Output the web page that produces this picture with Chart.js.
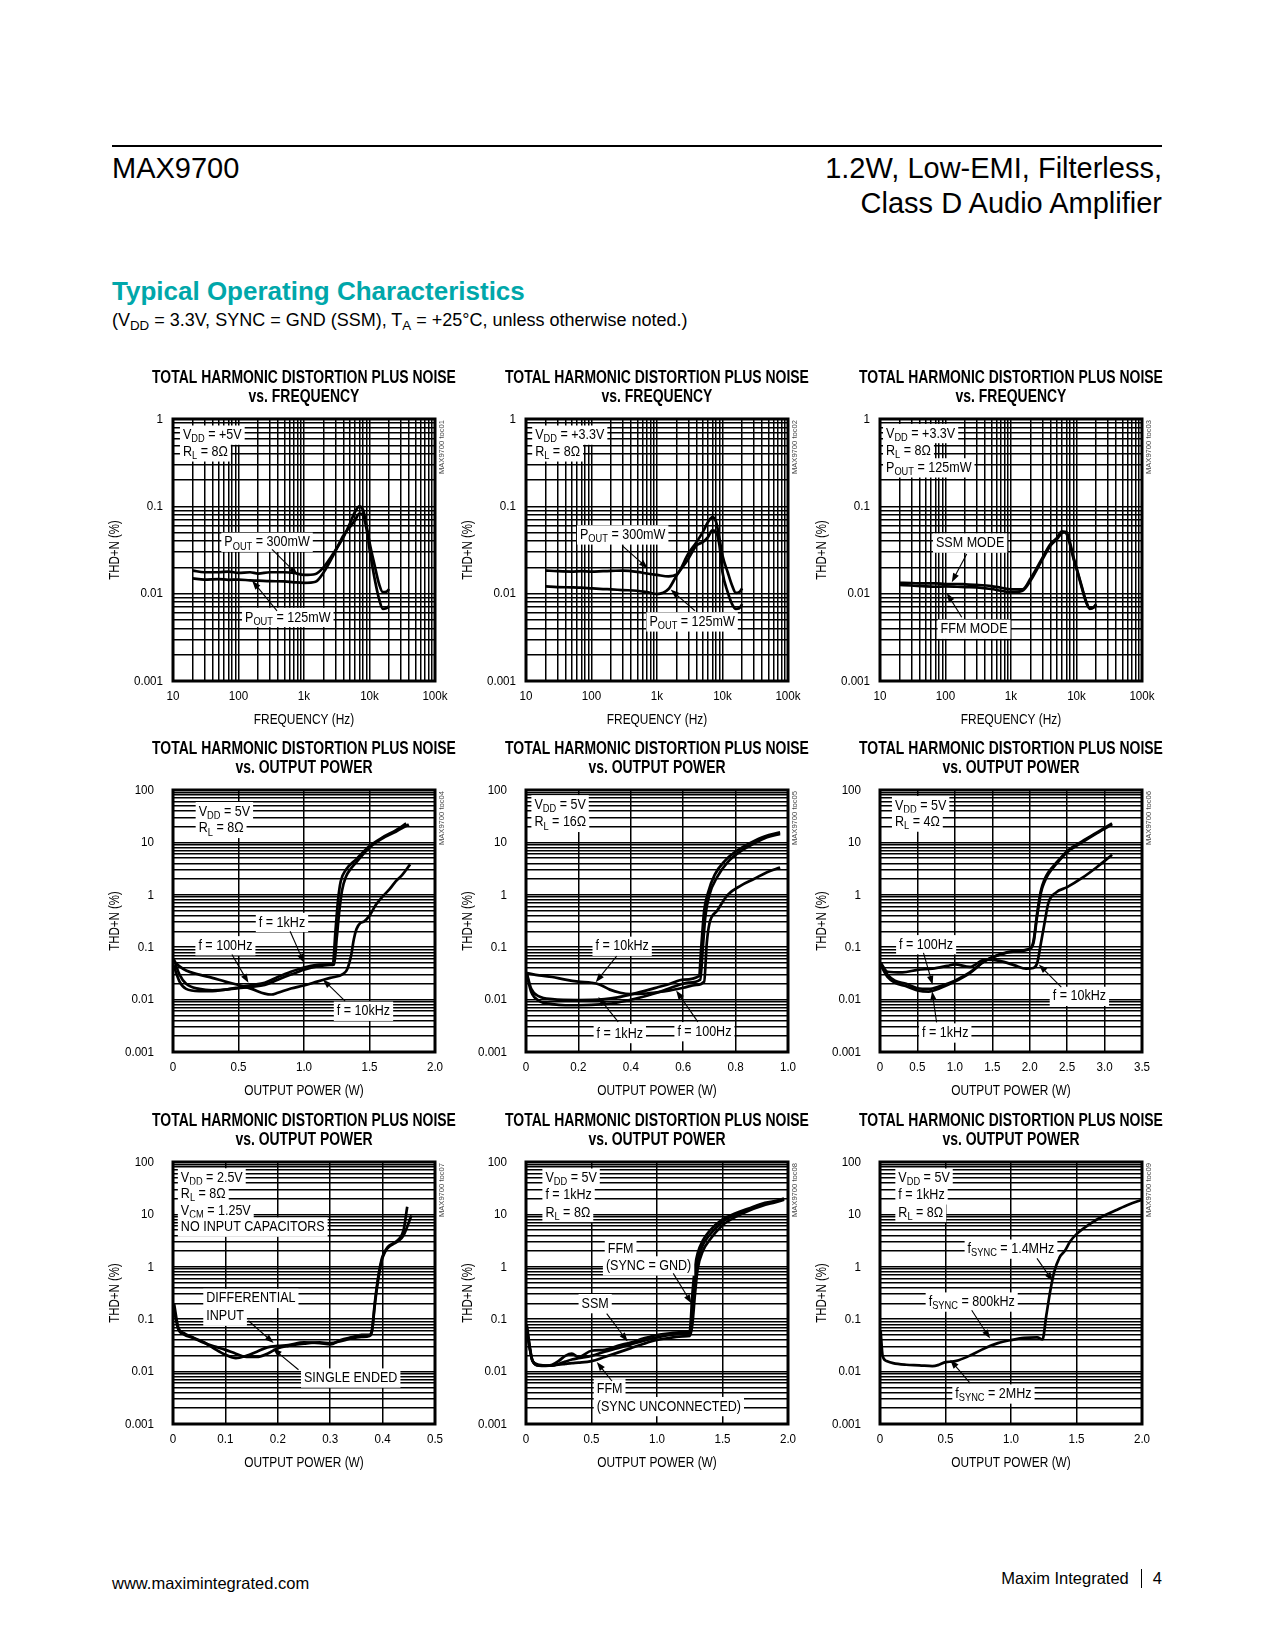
<!DOCTYPE html>
<html>
<head>
<meta charset="utf-8">
<title>MAX9700 Typical Operating Characteristics</title>
<script src="https://cdn.jsdelivr.net/npm/chart.js@4.4.1/dist/chart.umd.min.js"></script>
<style>
  body { margin: 0; background: #fff; font-family: 'Liberation Sans', Arial, Helvetica, sans-serif; color: #000; }
  #page { position: relative; width: 1275px; height: 1650px; overflow: hidden; }
  .abs { position: absolute; white-space: nowrap; }
  .abs sub { font-size: 0.74em; vertical-align: -0.28em; line-height: 0; }
  canvas { position: absolute; }
</style>
</head>
<body>
<div id="page">
  <div class="abs" style="left:112px;top:145px;width:1050px;border-top:2px solid #000"></div>
  <div class="abs" style="left:112px;top:151px;font-size:29px;line-height:35px">MAX9700</div>
  <div class="abs" style="right:113px;top:151px;font-size:29px;line-height:35px;text-align:right">1.2W, Low-EMI, Filterless,<br>Class D Audio Amplifier</div>
  <div class="abs" style="left:112px;top:276px;font-size:26px;line-height:30px;font-weight:bold;color:#00a7aa">Typical Operating Characteristics</div>
  <div class="abs" style="left:112px;top:309px;font-size:18px;line-height:22px">(V<sub>DD</sub> = 3.3V, SYNC = GND (SSM), T<sub>A</sub> = +25°C, unless otherwise noted.)</div>
  <div class="abs" style="left:112px;top:1573px;font-size:16.5px;line-height:20px">www.maximintegrated.com</div>
  <div class="abs" style="right:113px;top:1568px;font-size:16.5px;line-height:20px">Maxim Integrated<span style="display:inline-block;width:1px;height:19px;background:#000;vertical-align:-4px;margin:0 11px 0 12px"></span>4</div>
</div>
<script>
// ---- data ----
const freq = [20, 30, 50, 70, 100, 150, 200, 300, 500, 700, 1000, 1500, 2000, 3000, 4000, 5000, 6000, 7000, 8000, 9000, 10000, 12000, 14000, 16000, 18000, 20000];

// toc01: VDD = +5V, RL = 8 ohm
const c1_p300 = [0.0184, 0.0176, 0.0176, 0.0179, 0.0173, 0.0176, 0.0170, 0.0176, 0.0176, 0.0173, 0.0164, 0.0168, 0.0201, 0.0312, 0.0444, 0.0632, 0.0861, 0.1, 0.09, 0.0605, 0.0389, 0.021, 0.0129, 0.0104, 0.0105, 0.0113];
const c1_p125 = [0.0150, 0.0145, 0.0147, 0.0144, 0.0145, 0.0142, 0.0141, 0.0139, 0.0138, 0.0135, 0.0133, 0.0137, 0.0176, 0.0304, 0.0464, 0.0579, 0.069, 0.0823, 0.0787, 0.0552, 0.0326, 0.0147, 0.0087, 0.0067, 0.0068, 0.0072];

// toc02: VDD = +3.3V
const c2_p300 = [0.0184, 0.0181, 0.0179, 0.0181, 0.0179, 0.0181, 0.0182, 0.0184, 0.0178, 0.0170, 0.0164, 0.0158, 0.0166, 0.0286, 0.0389, 0.0507, 0.066, 0.0754, 0.066, 0.0425, 0.0273, 0.0176, 0.0124, 0.0102, 0.0104, 0.0115];
const c2_p125 = [0.0121, 0.0119, 0.0118, 0.0117, 0.0115, 0.0113, 0.0112, 0.0110, 0.0108, 0.0104, 0.0099, 0.0113, 0.0162, 0.025, 0.0356, 0.0389, 0.0444, 0.053, 0.0507, 0.0356, 0.0176, 0.0104, 0.0076, 0.0067, 0.0068, 0.0076];

// toc03: SSM / FFM
const c3_ssm = [0.0133, 0.0132, 0.0131, 0.0131, 0.0129, 0.0129, 0.0128, 0.0126, 0.0122, 0.0117, 0.0112, 0.0112, 0.0150, 0.0255, 0.037, 0.0433, 0.0516, 0.0490, 0.036, 0.0252, 0.0193, 0.0118, 0.0080, 0.0067, 0.0069, 0.0075];
const c3_ffm = [0.0126, 0.0124, 0.0121, 0.0120, 0.0121, 0.0120, 0.0119, 0.0118, 0.0113, 0.0108, 0.0104, 0.0108, 0.0142, 0.0245, 0.0355, 0.042, 0.0495, 0.051, 0.038, 0.026, 0.0198, 0.0122, 0.0082, 0.0068, 0.0069, 0.0076];

// toc04: VDD = 5V, RL = 8 ohm
const c4_w100 = [0.005, 0.05, 0.1, 0.2, 0.3, 0.4, 0.5, 0.6, 0.7, 0.8, 0.9, 1.0, 1.1, 1.2, 1.23, 1.25, 1.27, 1.29, 1.32, 1.36, 1.4, 1.5, 1.6, 1.7, 1.8];
const c4_f100 = [0.045, 0.022, 0.016, 0.0145, 0.0145, 0.0155, 0.0165, 0.0175, 0.019, 0.024, 0.03, 0.037, 0.043, 0.046, 0.047, 0.15, 0.5, 1.2, 2.2, 3.2, 4.2, 8.0, 12, 16, 22];
const c4_w1k = [0.005, 0.05, 0.1, 0.2, 0.3, 0.4, 0.5, 0.6, 0.7, 0.8, 0.9, 1.0, 1.1, 1.2, 1.22, 1.24, 1.26, 1.28, 1.32, 1.4, 1.5, 1.6, 1.7, 1.78];
const c4_f1k = [0.06, 0.03, 0.02, 0.016, 0.015, 0.0155, 0.017, 0.019, 0.021, 0.027, 0.034, 0.041, 0.046, 0.047, 0.047, 0.2, 0.8, 1.8, 3.0, 4.8, 8.5, 12.5, 17, 23];
const c4_w10k = [0.005, 0.05, 0.1, 0.2, 0.3, 0.4, 0.5, 0.6, 0.7, 0.75, 0.8, 0.9, 1.0, 1.1, 1.2, 1.3, 1.33, 1.36, 1.38, 1.4, 1.43, 1.46, 1.5, 1.55, 1.6, 1.65, 1.7, 1.75, 1.81];
const c4_f10k = [0.055, 0.043, 0.036, 0.03, 0.026, 0.022, 0.019, 0.016, 0.013, 0.0125, 0.0135, 0.0163, 0.0186, 0.022, 0.026, 0.031, 0.038, 0.07, 0.14, 0.22, 0.29, 0.31, 0.4, 0.65, 0.93, 1.25, 1.8, 2.4, 3.8];

// toc05: VDD = 5V, RL = 16 ohm
const c5_w100 = [0.003, 0.02, 0.05, 0.1, 0.15, 0.2, 0.3, 0.35, 0.42, 0.5, 0.57, 0.62, 0.665, 0.675, 0.685, 0.70, 0.73, 0.77, 0.82, 0.87, 0.92, 0.97];
const c5_f100 = [0.03, 0.014, 0.0095, 0.0082, 0.0078, 0.0078, 0.0082, 0.0088, 0.0105, 0.0135, 0.018, 0.021, 0.024, 0.1, 0.4, 1.0, 2.2, 4.2, 6.8, 9.5, 12.5, 14.5];
const c5_w1k = [0.003, 0.02, 0.05, 0.1, 0.2, 0.3, 0.35, 0.4, 0.45, 0.5, 0.55, 0.6, 0.66, 0.67, 0.68, 0.695, 0.72, 0.76, 0.81, 0.86, 0.91, 0.97];
const c5_f1k = [0.032, 0.016, 0.0115, 0.0102, 0.0098, 0.0102, 0.011, 0.0125, 0.0145, 0.017, 0.02, 0.024, 0.028, 0.12, 0.5, 1.1, 2.4, 4.5, 7.2, 10, 13, 15.5];
const c5_w10k = [0.003, 0.05, 0.1, 0.15, 0.2, 0.25, 0.28, 0.32, 0.36, 0.4, 0.45, 0.5, 0.55, 0.6, 0.65, 0.68, 0.69, 0.7, 0.73, 0.77, 0.82, 0.87, 0.92, 0.97];
const c5_f10k = [0.032, 0.029, 0.027, 0.024, 0.022, 0.021, 0.0195, 0.0155, 0.0135, 0.0128, 0.013, 0.0138, 0.015, 0.0168, 0.019, 0.022, 0.12, 0.28, 0.5, 1.0, 1.5, 2.0, 2.7, 3.3];

// toc06: VDD = 5V, RL = 4 ohm
const c6_w100 = [0.01, 0.1, 0.2, 0.35, 0.5, 0.65, 0.8, 1.0, 1.2, 1.4, 1.6, 1.8, 2.0, 2.05, 2.1, 2.15, 2.2, 2.25, 2.35, 2.5, 2.7, 2.9, 3.1];
const c6_f100 = [0.05, 0.03, 0.023, 0.02, 0.0165, 0.016, 0.018, 0.023, 0.033, 0.055, 0.072, 0.083, 0.092, 0.12, 0.4, 1.1, 1.8, 2.5, 3.8, 6.5, 10, 15, 22];
const c6_w1k = [0.01, 0.1, 0.2, 0.35, 0.5, 0.65, 0.8, 1.0, 1.2, 1.4, 1.6, 1.8, 2.0, 2.05, 2.1, 2.15, 2.2, 2.25, 2.35, 2.5, 2.7, 2.9, 3.1];
const c6_f1k = [0.045, 0.027, 0.021, 0.018, 0.015, 0.0142, 0.0165, 0.022, 0.032, 0.054, 0.073, 0.085, 0.094, 0.13, 0.45, 1.2, 2.0, 2.7, 4.0, 6.8, 10.5, 15.5, 23];
const c6_w10k = [0.01, 0.1, 0.3, 0.5, 0.7, 0.9, 1.0, 1.2, 1.4, 1.6, 1.8, 1.95, 2.05, 2.1, 2.15, 2.2, 2.25, 2.35, 2.5, 2.7, 2.9, 3.1];
const c6_f10k = [0.05, 0.034, 0.033, 0.037, 0.039, 0.044, 0.047, 0.042, 0.058, 0.055, 0.045, 0.039, 0.04, 0.05, 0.12, 0.3, 0.7, 1.1, 1.4, 2.1, 3.4, 5.8];

// toc07: VDD = 2.5V, no input capacitors
const c7_wDiff = [0.002, 0.01, 0.02, 0.04, 0.06, 0.08, 0.1, 0.12, 0.14, 0.16, 0.18, 0.2, 0.22, 0.25, 0.28, 0.3, 0.32, 0.34, 0.36, 0.375, 0.38, 0.385, 0.39, 0.395, 0.4, 0.41, 0.42, 0.43, 0.44, 0.447];
const c7_diff = [0.2, 0.07, 0.055, 0.044, 0.036, 0.027, 0.021, 0.018, 0.02, 0.024, 0.029, 0.031, 0.032, 0.036, 0.035, 0.033, 0.04, 0.045, 0.05, 0.05, 0.065, 0.2, 0.5, 1.0, 1.6, 2.4, 2.8, 3.3, 5, 14];
const c7_wSe = [0.002, 0.01, 0.02, 0.04, 0.06, 0.08, 0.1, 0.12, 0.14, 0.16, 0.18, 0.2, 0.22, 0.25, 0.28, 0.3, 0.32, 0.34, 0.36, 0.375, 0.38, 0.385, 0.39, 0.395, 0.4, 0.41, 0.42, 0.43, 0.44, 0.455];
const c7_se = [0.15, 0.065, 0.052, 0.043, 0.035, 0.03, 0.026, 0.022, 0.019, 0.019, 0.022, 0.028, 0.031, 0.034, 0.036, 0.035, 0.038, 0.043, 0.046, 0.048, 0.06, 0.18, 0.45, 0.9, 1.5, 2.3, 2.7, 3.1, 4, 9.5];

// toc08: modulation modes
const c8_w = [0.005, 0.05, 0.1, 0.15, 0.2, 0.25, 0.3, 0.35, 0.4, 0.5, 0.6, 0.7, 0.8, 0.9, 1.0, 1.1, 1.2, 1.25, 1.27, 1.29, 1.31, 1.35, 1.4, 1.5, 1.6, 1.7, 1.8, 1.9, 1.97];
const c8_ssm = [0.08, 0.016, 0.013, 0.0128, 0.0135, 0.016, 0.02, 0.022, 0.019, 0.025, 0.026, 0.031, 0.036, 0.043, 0.05, 0.054, 0.057, 0.06, 0.3, 1.0, 1.8, 3.2, 4.8, 8.0, 10.5, 13, 16, 18, 20];
const c8_ffmGnd = [0.07, 0.016, 0.0135, 0.013, 0.013, 0.014, 0.0155, 0.017, 0.018, 0.02, 0.024, 0.028, 0.033, 0.039, 0.045, 0.05, 0.053, 0.055, 0.15, 0.6, 1.3, 2.6, 4.0, 7.2, 10, 12.5, 15.5, 17.5, 19.5];
const c8_ffmOpen = [0.06, 0.016, 0.013, 0.013, 0.0132, 0.0135, 0.014, 0.0145, 0.0148, 0.0158, 0.019, 0.023, 0.028, 0.034, 0.04, 0.044, 0.047, 0.048, 0.08, 0.3, 0.9, 2.0, 3.2, 6.2, 9.0, 11.8, 14.5, 17, 19];

// toc09: external sync frequency
const c9_w = [0.005, 0.02, 0.05, 0.1, 0.2, 0.3, 0.4, 0.45, 0.5, 0.55, 0.6, 0.7, 0.8, 0.9, 1.0, 1.1, 1.2, 1.24, 1.27, 1.3, 1.33, 1.37, 1.41, 1.45, 1.5, 1.6, 1.7, 1.8, 1.9, 2.0];
const c9_sync = [0.06, 0.02, 0.016, 0.0145, 0.0135, 0.0132, 0.0127, 0.0135, 0.0152, 0.0155, 0.0165, 0.021, 0.028, 0.035, 0.04, 0.044, 0.045, 0.041, 0.12, 0.35, 0.8, 1.5, 2.0, 3.0, 4.2, 6.5, 9.2, 12, 15.5, 19];

// tick labels
const freqTicks = [10, 100, 1000, 10000, 100000];
const freqTickText = ['10', '100', '1k', '10k', '100k'];
const thdTicks1 = [0.001, 0.01, 0.1, 1];
const thdText1 = ['0.001', '0.01', '0.1', '1'];
const thdTicks100 = [0.001, 0.01, 0.1, 1, 10, 100];
const thdText100 = ['0.001', '0.01', '0.1', '1', '10', '100'];
const pw2Ticks = [0, 0.5, 1, 1.5, 2];
const pw2Text = ['0', '0.5', '1.0', '1.5', '2.0'];
const pw1Ticks = [0, 0.2, 0.4, 0.6, 0.8, 1.0];
const pw1Text = ['0', '0.2', '0.4', '0.6', '0.8', '1.0'];
const pw35Ticks = [0, 0.5, 1, 1.5, 2, 2.5, 3, 3.5];
const pw35Text = ['0', '0.5', '1.0', '1.5', '2.0', '2.5', '3.0', '3.5'];
const pw05Ticks = [0, 0.1, 0.2, 0.3, 0.4, 0.5];
const pw05Text = ['0', '0.1', '0.2', '0.3', '0.4', '0.5'];

// ---- drawing helpers ----
const FONT = "'Liberation Sans', Arial, Helvetica, sans-serif";
const SX = 0.82;
const PLOT = 262;
const colLeft = [173, 526, 880];
const rowTop = [419, 790, 1162];

function parseRich(str) {
  const segs = [];
  const re = /_\{([^}]*)\}/g;
  let last = 0, m;
  while ((m = re.exec(str))) {
    if (m.index > last) segs.push({ t: str.slice(last, m.index), sub: false });
    segs.push({ t: m[1], sub: true });
    last = re.lastIndex;
  }
  if (last < str.length) segs.push({ t: str.slice(last), sub: false });
  return segs;
}

function richText(ctx, str, x, y, o) {
  const fs = o.size || 14, sx = o.sx || SX;
  const segs = parseRich(str);
  const fontOf = s => (o.bold ? 'bold ' : '') + (s.sub ? fs * 0.74 : fs) + 'px ' + FONT;
  let w = 0;
  segs.forEach(s => { ctx.font = fontOf(s); s.w = ctx.measureText(s.t).width; w += s.w; });
  const tw = w * sx;
  const x0 = o.align === 'center' ? x - tw / 2 : o.align === 'right' ? x - tw : x;
  if (o.bg) {
    ctx.fillStyle = '#fff';
    ctx.fillRect(x0 - 3, y - fs * 0.62, tw + 6, fs * 1.26);
  }
  ctx.save();
  ctx.translate(x0, y);
  ctx.scale(sx, 1);
  ctx.fillStyle = o.color || '#000';
  ctx.textBaseline = 'middle';
  ctx.textAlign = 'left';
  let cx = 0;
  segs.forEach(s => {
    ctx.font = fontOf(s);
    ctx.fillText(s.t, cx, s.sub ? fs * 0.28 : 0);
    cx += s.w;
  });
  ctx.restore();
}

function arrow(ctx, x1, y1, x2, y2) {
  const a = Math.atan2(y2 - y1, x2 - x1), L = 9, hw = 3.2;
  ctx.strokeStyle = '#000';
  ctx.lineWidth = 1.1;
  ctx.beginPath();
  ctx.moveTo(x1, y1);
  ctx.lineTo(x2 - L * 0.8 * Math.cos(a), y2 - L * 0.8 * Math.sin(a));
  ctx.stroke();
  ctx.beginPath();
  ctx.moveTo(x2, y2);
  ctx.lineTo(x2 - L * Math.cos(a) + hw * Math.sin(a), y2 - L * Math.sin(a) - hw * Math.cos(a));
  ctx.lineTo(x2 - L * Math.cos(a) - hw * Math.sin(a), y2 - L * Math.sin(a) + hw * Math.cos(a));
  ctx.closePath();
  ctx.fillStyle = '#000';
  ctx.fill();
}

// grid lines at 1..9 of every decade
function logGrid(min, max) {
  const out = [];
  for (let e = Math.round(Math.log10(min)); e < Math.round(Math.log10(max)); e++) {
    for (let d = 1; d < 10; d++) out.push({ value: d * Math.pow(10, e) });
  }
  out.push({ value: max });
  return out;
}

function zip(xs, ys) {
  return xs.map((x, i) => ({ x: x, y: ys[i] }));
}

const TITLE1 = 'TOTAL HARMONIC DISTORTION PLUS NOISE';

const charts = [
  { col: 0, row: 0, toc: 'MAX9700 toc01', sub: 'vs. FREQUENCY', xTitle: 'FREQUENCY (Hz)', xType: 'logarithmic', xMin: 10, xMax: 100000,
    xTicks: freqTicks, xText: freqTickText, yTicks: thdTicks1, yText: thdText1,
    series: [zip(freq, c1_p300), zip(freq, c1_p125)],
    notes: [['V_{DD} = +5V', 0.038, 0.061], ['R_{L} = 8Ω', 0.038, 0.125], ['P_{OUT} = 300mW', 0.359, 0.47, 'center'], ['P_{OUT} = 125mW', 0.438, 0.757, 'center']],
    arrows: [[0.378, 0.498, 0.476, 0.595], [0.397, 0.732, 0.302, 0.617]] },
  { col: 1, row: 0, toc: 'MAX9700 toc02', sub: 'vs. FREQUENCY', xTitle: 'FREQUENCY (Hz)', xType: 'logarithmic', xMin: 10, xMax: 100000,
    xTicks: freqTicks, xText: freqTickText, yTicks: thdTicks1, yText: thdText1,
    series: [zip(freq, c2_p300), zip(freq, c2_p125)],
    notes: [['V_{DD} = +3.3V', 0.035, 0.061], ['R_{L} = 8Ω', 0.035, 0.125], ['P_{OUT} = 300mW', 0.369, 0.442, 'center'], ['P_{OUT} = 125mW', 0.634, 0.774, 'center']],
    arrows: [[0.367, 0.483, 0.465, 0.57], [0.645, 0.732, 0.552, 0.651]] },
  { col: 2, row: 0, toc: 'MAX9700 toc03', sub: 'vs. FREQUENCY', xTitle: 'FREQUENCY (Hz)', xType: 'logarithmic', xMin: 10, xMax: 100000,
    xTicks: freqTicks, xText: freqTickText, yTicks: thdTicks1, yText: thdText1,
    series: [zip(freq, c3_ssm), zip(freq, c3_ffm)],
    notes: [['V_{DD} = +3.3V', 0.023, 0.055], ['R_{L} = 8Ω', 0.023, 0.122], ['P_{OUT} = 125mW', 0.023, 0.186], ['SSM MODE', 0.344, 0.473, 'center'], ['FFM MODE', 0.359, 0.802, 'center']],
    arrows: [[0.331, 0.515, 0.274, 0.623], [0.312, 0.757, 0.255, 0.664]] },
  { col: 0, row: 1, toc: 'MAX9700 toc04', sub: 'vs. OUTPUT POWER', xTitle: 'OUTPUT POWER (W)', xType: 'linear', xMin: 0, xMax: 2,
    xTicks: pw2Ticks, xText: pw2Text, yTicks: thdTicks100, yText: thdText100,
    series: [zip(c4_w100, c4_f100), zip(c4_w1k, c4_f1k), zip(c4_w10k, c4_f10k)],
    notes: [['V_{DD} = 5V', 0.098, 0.082], ['R_{L} = 8Ω', 0.098, 0.146], ['f = 1kHz', 0.416, 0.505, 'center'], ['f = 100Hz', 0.2, 0.594, 'center'], ['f = 10kHz', 0.727, 0.844, 'center']],
    arrows: [[0.447, 0.539, 0.5, 0.66], [0.225, 0.628, 0.288, 0.736], [0.657, 0.806, 0.572, 0.723]] },
  { col: 1, row: 1, toc: 'MAX9700 toc05', sub: 'vs. OUTPUT POWER', xTitle: 'OUTPUT POWER (W)', xType: 'linear', xMin: 0, xMax: 1,
    xTicks: pw1Ticks, xText: pw1Text, yTicks: thdTicks100, yText: thdText100,
    series: [zip(c5_w100, c5_f100), zip(c5_w1k, c5_f1k), zip(c5_w10k, c5_f10k)],
    notes: [['V_{DD} = 5V', 0.032, 0.056], ['R_{L} = 16Ω', 0.032, 0.123], ['f = 10kHz', 0.367, 0.596, 'center'], ['f = 1kHz', 0.358, 0.929, 'center'], ['f = 100Hz', 0.681, 0.922, 'center']],
    arrows: [[0.346, 0.634, 0.266, 0.734], [0.352, 0.885, 0.276, 0.79], [0.656, 0.885, 0.573, 0.765]] },
  { col: 2, row: 1, toc: 'MAX9700 toc06', sub: 'vs. OUTPUT POWER', xTitle: 'OUTPUT POWER (W)', xType: 'linear', xMin: 0, xMax: 3.5,
    xTicks: pw35Ticks, xText: pw35Text, yTicks: thdTicks100, yText: thdText100,
    series: [zip(c6_w100, c6_f100), zip(c6_w1k, c6_f1k), zip(c6_w10k, c6_f10k)],
    notes: [['V_{DD} = 5V', 0.057, 0.059], ['R_{L} = 4Ω', 0.057, 0.122], ['f = 100Hz', 0.176, 0.59, 'center'], ['f = 1kHz', 0.249, 0.927, 'center'], ['f = 10kHz', 0.761, 0.787, 'center']],
    arrows: [[0.166, 0.622, 0.201, 0.743], [0.216, 0.887, 0.199, 0.768], [0.692, 0.752, 0.606, 0.666]] },
  { col: 0, row: 2, toc: 'MAX9700 toc07', sub: 'vs. OUTPUT POWER', xTitle: 'OUTPUT POWER (W)', xType: 'linear', xMin: 0, xMax: 0.5,
    xTicks: pw05Ticks, xText: pw05Text, yTicks: thdTicks100, yText: thdText100,
    series: [zip(c7_wDiff, c7_diff), zip(c7_wSe, c7_se)],
    notes: [['V_{DD} = 2.5V', 0.03, 0.06], ['R_{L} = 8Ω', 0.03, 0.122], ['V_{CM} = 1.25V', 0.03, 0.186], ['NO INPUT CAPACITORS', 0.03, 0.248],
            ['DIFFERENTIAL', 0.127, 0.52], ['INPUT', 0.127, 0.588], ['SINGLE ENDED', 0.5, 0.824]],
    arrows: [[0.288, 0.606, 0.384, 0.691], [0.479, 0.793, 0.381, 0.712]] },
  { col: 1, row: 2, toc: 'MAX9700 toc08', sub: 'vs. OUTPUT POWER', xTitle: 'OUTPUT POWER (W)', xType: 'linear', xMin: 0, xMax: 2,
    xTicks: pw2Ticks, xText: pw2Text, yTicks: thdTicks100, yText: thdText100,
    series: [zip(c8_w, c8_ssm), zip(c8_w, c8_ffmGnd), zip(c8_w, c8_ffmOpen)],
    notes: [['V_{DD} = 5V', 0.074, 0.061], ['f = 1kHz', 0.074, 0.125], ['R_{L} = 8Ω', 0.074, 0.192], ['FFM', 0.312, 0.332], ['(SYNC = GND)', 0.305, 0.396],
            ['SSM', 0.264, 0.54, 'center'], ['FFM', 0.27, 0.865], ['(SYNC UNCONNECTED)', 0.27, 0.933]],
    arrows: [[0.562, 0.425, 0.632, 0.54], [0.308, 0.579, 0.388, 0.685], [0.328, 0.836, 0.27, 0.763]] },
  { col: 2, row: 2, toc: 'MAX9700 toc09', sub: 'vs. OUTPUT POWER', xTitle: 'OUTPUT POWER (W)', xType: 'linear', xMin: 0, xMax: 2,
    xTicks: pw2Ticks, xText: pw2Text, yTicks: thdTicks100, yText: thdText100,
    series: [zip(c9_w, c9_sync)],
    notes: [['V_{DD} = 5V', 0.07, 0.061], ['f = 1kHz', 0.07, 0.125], ['R_{L} = 8Ω', 0.07, 0.192], ['f_{SYNC} = 1.4MHz', 0.5, 0.332, 'center'],
            ['f_{SYNC} = 800kHz', 0.35, 0.534, 'center'], ['f_{SYNC} = 2MHz', 0.433, 0.885, 'center']],
    arrows: [[0.599, 0.368, 0.66, 0.455], [0.35, 0.566, 0.42, 0.674], [0.344, 0.844, 0.268, 0.755]] }
];

function decorPlugin(spec) {
  return {
    id: 'decor',
    afterDatasetsDraw(chart) {
      const ctx = chart.ctx, a = chart.chartArea;
      const w = a.right - a.left, h = a.bottom - a.top;
      spec.notes.forEach(n => {
        richText(ctx, n[0], a.left + n[1] * w, a.top + n[2] * h, { size: 15.3, align: n[3] || 'left', bg: true });
      });
      spec.arrows.forEach(r => {
        arrow(ctx, a.left + r[0] * w, a.top + r[1] * h, a.left + r[2] * w, a.top + r[3] * h);
      });
    },
    afterDraw(chart) {
      const ctx = chart.ctx, a = chart.chartArea;
      const xs = chart.scales.x, ys = chart.scales.y;
      const midX = (a.left + a.right) / 2;

      ctx.save();
      ctx.lineWidth = 3;
      ctx.strokeStyle = '#000';
      ctx.strokeRect(a.left, a.top, a.right - a.left, a.bottom - a.top);
      ctx.restore();

      richText(ctx, TITLE1, midX, a.top - 41, { size: 18, bold: true, sx: 0.775, align: 'center' });
      richText(ctx, spec.sub, midX, a.top - 22, { size: 18, bold: true, sx: 0.775, align: 'center' });

      // power plots keep their THD labels a little further from the frame
      const yGap = spec.yTicks.length > 4 ? 19 : 10;
      spec.yTicks.forEach((v, i) => {
        richText(ctx, spec.yText[i], a.left - yGap, ys.getPixelForValue(v), { size: 13.5, sx: 0.86, align: 'right' });
      });
      spec.xTicks.forEach((v, i) => {
        richText(ctx, spec.xText[i], xs.getPixelForValue(v), a.bottom + 15, { size: 13.5, sx: 0.86, align: 'center' });
      });
      richText(ctx, spec.xTitle, midX, a.bottom + 39, { size: 14.5, align: 'center' });

      ctx.save();
      ctx.translate(a.left - 58, (a.top + a.bottom) / 2);
      ctx.rotate(-Math.PI / 2);
      richText(ctx, 'THD+N (%)', 0, 0, { size: 14, align: 'center' });
      ctx.restore();

      ctx.save();
      ctx.translate(a.right + 7, a.top + 1);
      ctx.rotate(-Math.PI / 2);
      richText(ctx, spec.toc, 0, 0, { size: 8, sx: 0.95, align: 'right', color: '#444' });
      ctx.restore();
    }
  };
}

const page = document.getElementById('page');

charts.forEach(spec => {
  const left = colLeft[spec.col], top = rowTop[spec.row];
  const cv = document.createElement('canvas');
  cv.width = 353;
  cv.height = 372;
  cv.style.left = (left - 68) + 'px';
  cv.style.top = (top - 56) + 'px';
  cv.style.width = '353px';
  cv.style.height = '372px';
  page.appendChild(cv);

  const gridStyle = { color: '#000', lineWidth: 1.5, drawTicks: false };

  new Chart(cv, {
    type: 'line',
    data: {
      datasets: spec.series.map(pts => ({
        data: pts,
        borderColor: '#000',
        borderWidth: 2.7,
        pointRadius: 0,
        fill: false,
        cubicInterpolationMode: 'monotone'
      }))
    },
    options: {
      responsive: false,
      animation: false,
      events: [],
      layout: { padding: { left: 68, top: 56, right: 353 - 68 - PLOT, bottom: 372 - 56 - PLOT } },
      plugins: { legend: { display: false }, title: { display: false }, tooltip: { enabled: false } },
      scales: {
        x: {
          type: spec.xType,
          min: spec.xMin,
          max: spec.xMax,
          ticks: { display: false },
          grid: gridStyle,
          border: { display: false },
          afterBuildTicks: s => {
            s.ticks = spec.xType === 'logarithmic' ? logGrid(spec.xMin, spec.xMax) : spec.xTicks.map(v => ({ value: v }));
          },
          afterFit: s => { s.height = 0; }
        },
        y: {
          type: 'logarithmic',
          min: spec.yTicks[0],
          max: spec.yTicks[spec.yTicks.length - 1],
          ticks: { display: false },
          grid: gridStyle,
          border: { display: false },
          afterBuildTicks: s => { s.ticks = logGrid(s.min, s.max); },
          afterFit: s => { s.width = 0; }
        }
      }
    },
    plugins: [decorPlugin(spec)]
  });
});
</script>
</body>
</html>
